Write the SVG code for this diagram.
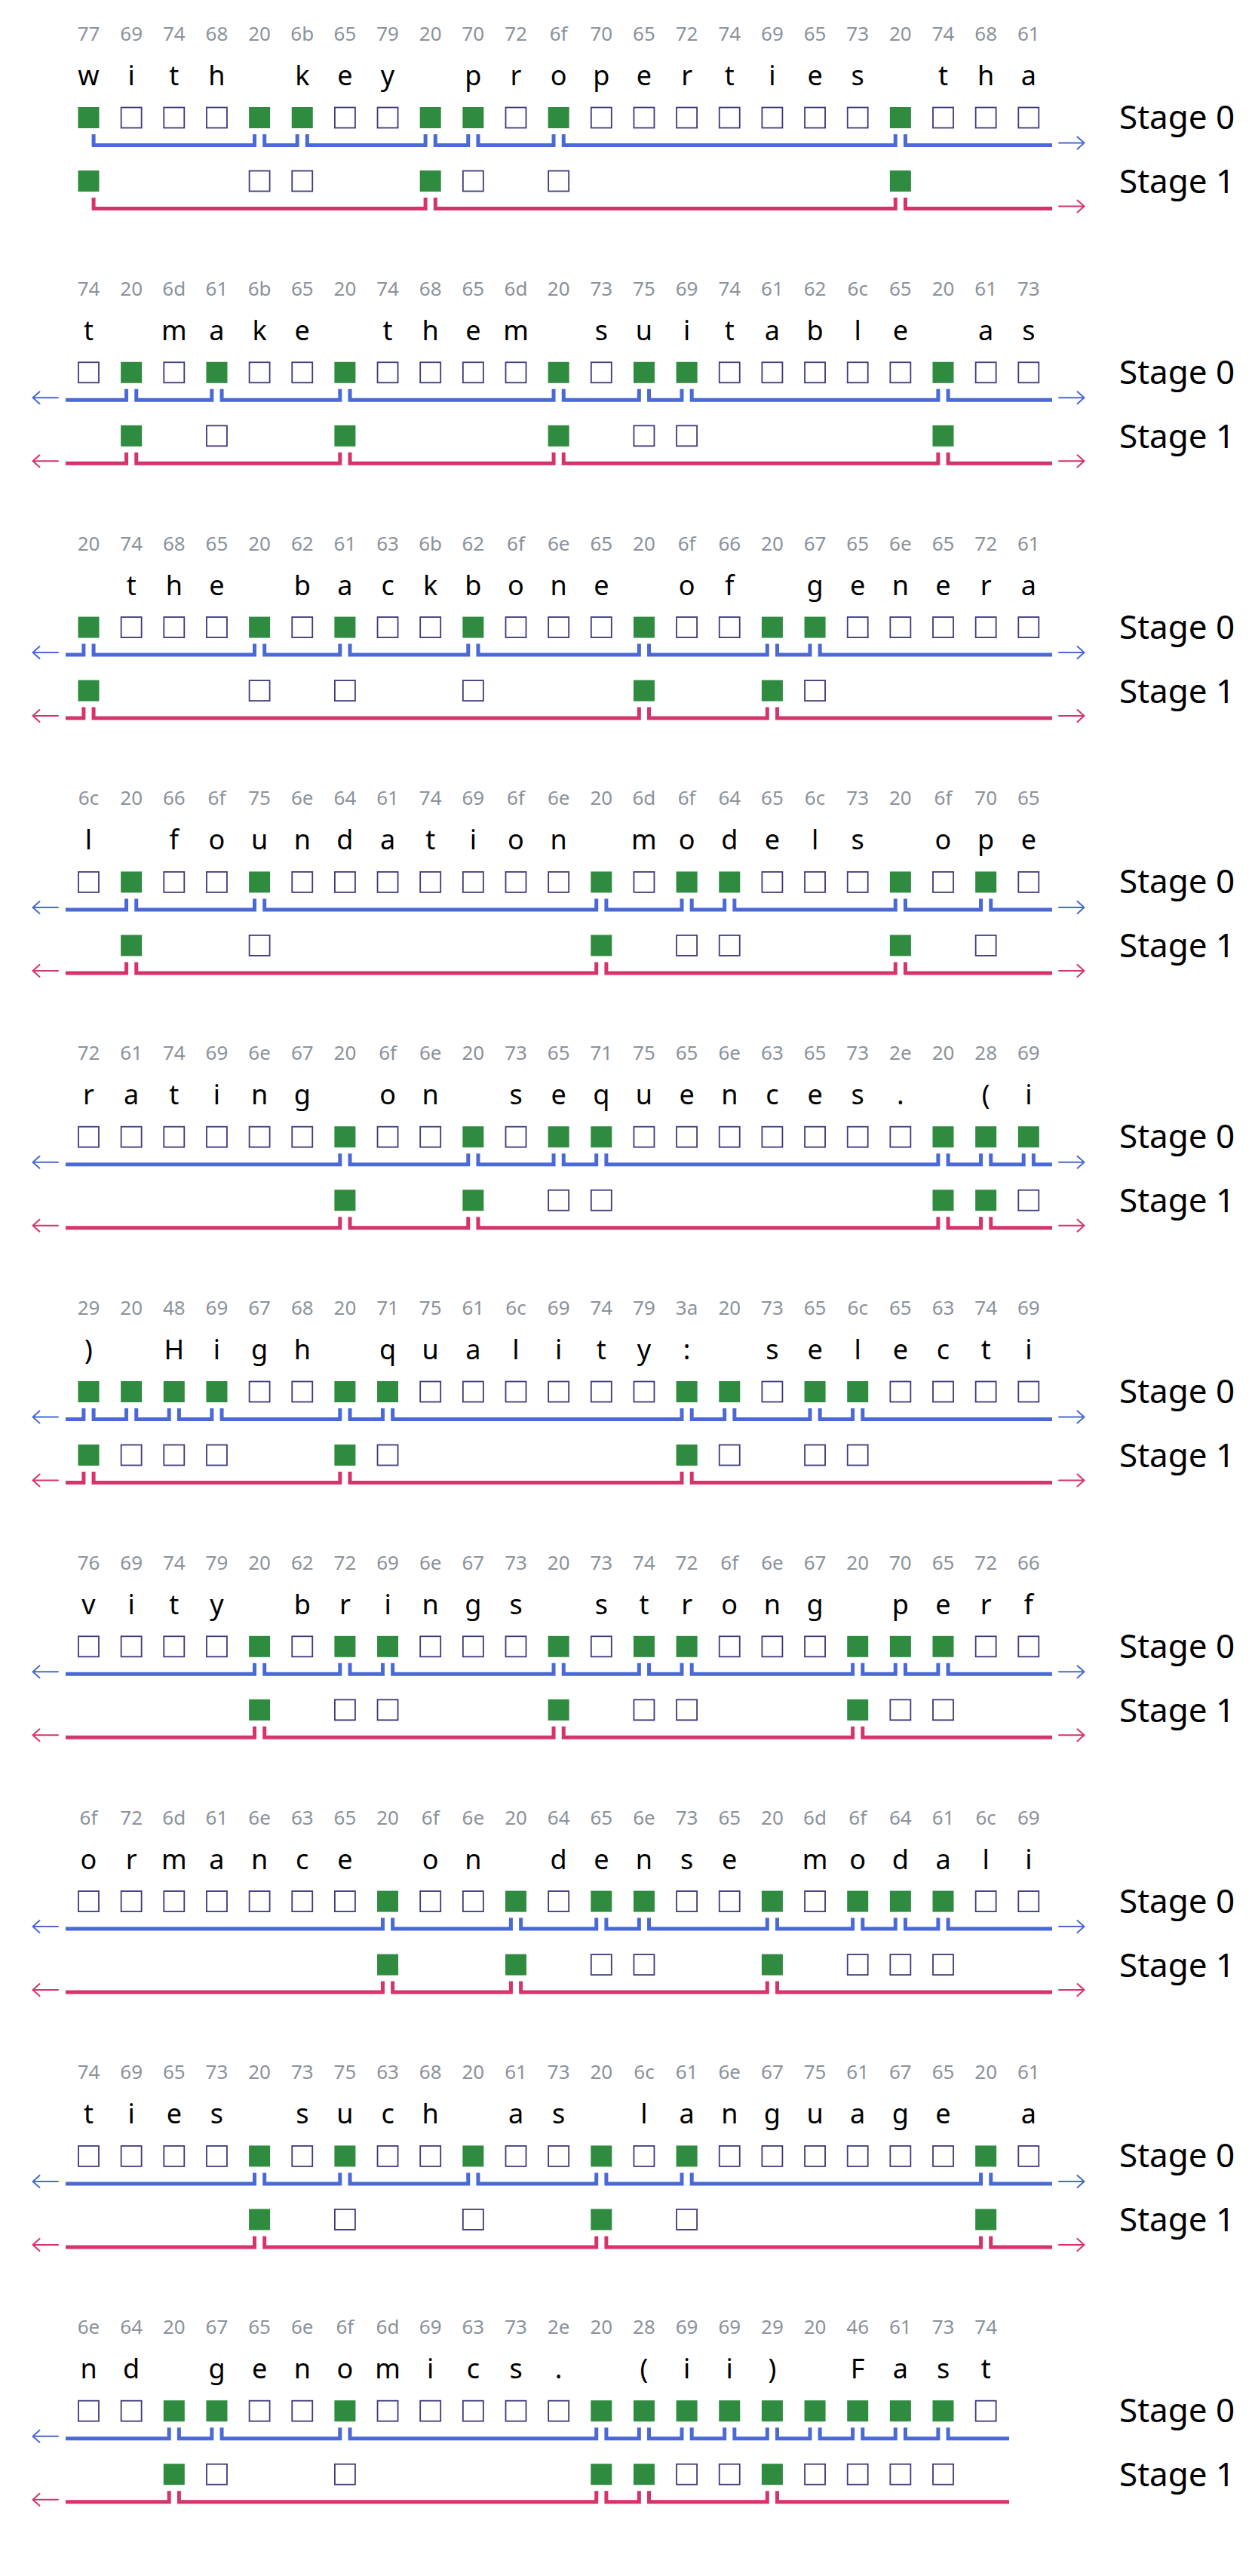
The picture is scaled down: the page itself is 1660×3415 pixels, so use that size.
<svg xmlns="http://www.w3.org/2000/svg" width="1660" height="3415" viewBox="0 0 1660 3415">
<style>
text{font-family:"Noto Sans","Open Sans","DejaVu Sans",sans-serif}
.hex{font-size:26px;fill:#8b929a;text-anchor:middle}
.ch{font-size:36px;fill:#000;text-anchor:middle}
.lbl{font-size:44px;fill:#000}
.g{fill:#2e8b3f}
.e{fill:#fff;stroke:#3e3a7e;stroke-width:1.8}
.br path{fill:none;stroke-width:5;stroke-linejoin:miter;stroke-linecap:butt}
.bl{stroke:#4a69d6}
.pk{stroke:#d6336b}
.ar{fill:none;stroke-width:2;stroke-linecap:round;stroke-linejoin:round}
</style>
<defs>
<rect id="G" class="g" width="28" height="28"/>
<rect id="E" class="e" x="0.5" y="0.5" width="27" height="27"/>
<path id="ra" class="ar" d="M1404,189.5H1437M1428.5,181.5L1437.5,189.5L1428.5,197.5"/>
<path id="la" class="ar" d="M77,189.5H44M52.5,181.5L43.5,189.5L52.5,197.5"/>
</defs>
<rect width="1660" height="3415" fill="#fff"/>

<!-- Block 1 -->
<g id="block-1">
<text class="hex" y="54"><tspan x="117.5">77</tspan><tspan x="174.15">69</tspan><tspan x="230.8">74</tspan><tspan x="287.45">68</tspan><tspan x="344.1">20</tspan><tspan x="400.75">6b</tspan><tspan x="457.4">65</tspan><tspan x="514.05">79</tspan><tspan x="570.7">20</tspan><tspan x="627.35">70</tspan><tspan x="684">72</tspan><tspan x="740.65">6f</tspan><tspan x="797.3">70</tspan><tspan x="853.95">65</tspan><tspan x="910.6">72</tspan><tspan x="967.25">74</tspan><tspan x="1023.9">69</tspan><tspan x="1080.55">65</tspan><tspan x="1137.2">73</tspan><tspan x="1193.85">20</tspan><tspan x="1250.5">74</tspan><tspan x="1307.15">68</tspan><tspan x="1363.8">61</tspan></text>
<text class="ch" y="113"><tspan x="117.5">w</tspan><tspan x="174.15">i</tspan><tspan x="230.8">t</tspan><tspan x="287.45">h</tspan><tspan x="344.1"> </tspan><tspan x="400.75">k</tspan><tspan x="457.4">e</tspan><tspan x="514.05">y</tspan><tspan x="570.7"> </tspan><tspan x="627.35">p</tspan><tspan x="684">r</tspan><tspan x="740.65">o</tspan><tspan x="797.3">p</tspan><tspan x="853.95">e</tspan><tspan x="910.6">r</tspan><tspan x="967.25">t</tspan><tspan x="1023.9">i</tspan><tspan x="1080.55">e</tspan><tspan x="1137.2">s</tspan><tspan x="1193.85"> </tspan><tspan x="1250.5">t</tspan><tspan x="1307.15">h</tspan><tspan x="1363.8">a</tspan></text>
<g id="b1-s0">
<use href="#G" x="103.5" y="142"/><use href="#E" x="160.15" y="142"/><use href="#E" x="216.8" y="142"/><use href="#E" x="273.45" y="142"/><use href="#G" x="330.1" y="142"/><use href="#G" x="386.75" y="142"/><use href="#E" x="443.4" y="142"/><use href="#E" x="500.05" y="142"/><use href="#G" x="556.7" y="142"/><use href="#G" x="613.35" y="142"/><use href="#E" x="670" y="142"/><use href="#G" x="726.65" y="142"/><use href="#E" x="783.3" y="142"/><use href="#E" x="839.95" y="142"/><use href="#E" x="896.6" y="142"/><use href="#E" x="953.25" y="142"/><use href="#E" x="1009.9" y="142"/><use href="#E" x="1066.55" y="142"/><use href="#E" x="1123.2" y="142"/><use href="#G" x="1179.85" y="142"/><use href="#E" x="1236.5" y="142"/><use href="#E" x="1293.15" y="142"/><use href="#E" x="1349.8" y="142"/>
</g>
<g id="b1-s1">
<use href="#G" x="103.5" y="226"/><use href="#E" x="330.1" y="226"/><use href="#E" x="386.75" y="226"/><use href="#G" x="556.7" y="226"/><use href="#E" x="613.35" y="226"/><use href="#E" x="726.65" y="226"/><use href="#G" x="1179.85" y="226"/>
</g>
<text class="lbl" x="1484" y="171">Stage 0</text>
<text class="lbl" x="1484" y="256">Stage 1</text>
</g>

<!-- Block 2 -->
<g id="block-2" transform="translate(0,337.8)">
<text class="hex" y="54"><tspan x="117.5">74</tspan><tspan x="174.15">20</tspan><tspan x="230.8">6d</tspan><tspan x="287.45">61</tspan><tspan x="344.1">6b</tspan><tspan x="400.75">65</tspan><tspan x="457.4">20</tspan><tspan x="514.05">74</tspan><tspan x="570.7">68</tspan><tspan x="627.35">65</tspan><tspan x="684">6d</tspan><tspan x="740.65">20</tspan><tspan x="797.3">73</tspan><tspan x="853.95">75</tspan><tspan x="910.6">69</tspan><tspan x="967.25">74</tspan><tspan x="1023.9">61</tspan><tspan x="1080.55">62</tspan><tspan x="1137.2">6c</tspan><tspan x="1193.85">65</tspan><tspan x="1250.5">20</tspan><tspan x="1307.15">61</tspan><tspan x="1363.8">73</tspan></text>
<text class="ch" y="113"><tspan x="117.5">t</tspan><tspan x="174.15"> </tspan><tspan x="230.8">m</tspan><tspan x="287.45">a</tspan><tspan x="344.1">k</tspan><tspan x="400.75">e</tspan><tspan x="457.4"> </tspan><tspan x="514.05">t</tspan><tspan x="570.7">h</tspan><tspan x="627.35">e</tspan><tspan x="684">m</tspan><tspan x="740.65"> </tspan><tspan x="797.3">s</tspan><tspan x="853.95">u</tspan><tspan x="910.6">i</tspan><tspan x="967.25">t</tspan><tspan x="1023.9">a</tspan><tspan x="1080.55">b</tspan><tspan x="1137.2">l</tspan><tspan x="1193.85">e</tspan><tspan x="1250.5"> </tspan><tspan x="1307.15">a</tspan><tspan x="1363.8">s</tspan></text>
<g id="b2-s0">
<use href="#E" x="103.5" y="142"/><use href="#G" x="160.15" y="142"/><use href="#E" x="216.8" y="142"/><use href="#G" x="273.45" y="142"/><use href="#E" x="330.1" y="142"/><use href="#E" x="386.75" y="142"/><use href="#G" x="443.4" y="142"/><use href="#E" x="500.05" y="142"/><use href="#E" x="556.7" y="142"/><use href="#E" x="613.35" y="142"/><use href="#E" x="670" y="142"/><use href="#G" x="726.65" y="142"/><use href="#E" x="783.3" y="142"/><use href="#G" x="839.95" y="142"/><use href="#G" x="896.6" y="142"/><use href="#E" x="953.25" y="142"/><use href="#E" x="1009.9" y="142"/><use href="#E" x="1066.55" y="142"/><use href="#E" x="1123.2" y="142"/><use href="#E" x="1179.85" y="142"/><use href="#G" x="1236.5" y="142"/><use href="#E" x="1293.15" y="142"/><use href="#E" x="1349.8" y="142"/>
</g>
<g id="b2-s1">
<use href="#G" x="160.15" y="226"/><use href="#E" x="273.45" y="226"/><use href="#G" x="443.4" y="226"/><use href="#G" x="726.65" y="226"/><use href="#E" x="839.95" y="226"/><use href="#E" x="896.6" y="226"/><use href="#G" x="1236.5" y="226"/>
</g>
<text class="lbl" x="1484" y="171">Stage 0</text>
<text class="lbl" x="1484" y="256">Stage 1</text>
</g>

<!-- Block 3 -->
<g id="block-3" transform="translate(0,675.6)">
<text class="hex" y="54"><tspan x="117.5">20</tspan><tspan x="174.15">74</tspan><tspan x="230.8">68</tspan><tspan x="287.45">65</tspan><tspan x="344.1">20</tspan><tspan x="400.75">62</tspan><tspan x="457.4">61</tspan><tspan x="514.05">63</tspan><tspan x="570.7">6b</tspan><tspan x="627.35">62</tspan><tspan x="684">6f</tspan><tspan x="740.65">6e</tspan><tspan x="797.3">65</tspan><tspan x="853.95">20</tspan><tspan x="910.6">6f</tspan><tspan x="967.25">66</tspan><tspan x="1023.9">20</tspan><tspan x="1080.55">67</tspan><tspan x="1137.2">65</tspan><tspan x="1193.85">6e</tspan><tspan x="1250.5">65</tspan><tspan x="1307.15">72</tspan><tspan x="1363.8">61</tspan></text>
<text class="ch" y="113"><tspan x="117.5"> </tspan><tspan x="174.15">t</tspan><tspan x="230.8">h</tspan><tspan x="287.45">e</tspan><tspan x="344.1"> </tspan><tspan x="400.75">b</tspan><tspan x="457.4">a</tspan><tspan x="514.05">c</tspan><tspan x="570.7">k</tspan><tspan x="627.35">b</tspan><tspan x="684">o</tspan><tspan x="740.65">n</tspan><tspan x="797.3">e</tspan><tspan x="853.95"> </tspan><tspan x="910.6">o</tspan><tspan x="967.25">f</tspan><tspan x="1023.9"> </tspan><tspan x="1080.55">g</tspan><tspan x="1137.2">e</tspan><tspan x="1193.85">n</tspan><tspan x="1250.5">e</tspan><tspan x="1307.15">r</tspan><tspan x="1363.8">a</tspan></text>
<g id="b3-s0">
<use href="#G" x="103.5" y="142"/><use href="#E" x="160.15" y="142"/><use href="#E" x="216.8" y="142"/><use href="#E" x="273.45" y="142"/><use href="#G" x="330.1" y="142"/><use href="#E" x="386.75" y="142"/><use href="#G" x="443.4" y="142"/><use href="#E" x="500.05" y="142"/><use href="#E" x="556.7" y="142"/><use href="#G" x="613.35" y="142"/><use href="#E" x="670" y="142"/><use href="#E" x="726.65" y="142"/><use href="#E" x="783.3" y="142"/><use href="#G" x="839.95" y="142"/><use href="#E" x="896.6" y="142"/><use href="#E" x="953.25" y="142"/><use href="#G" x="1009.9" y="142"/><use href="#G" x="1066.55" y="142"/><use href="#E" x="1123.2" y="142"/><use href="#E" x="1179.85" y="142"/><use href="#E" x="1236.5" y="142"/><use href="#E" x="1293.15" y="142"/><use href="#E" x="1349.8" y="142"/>
</g>
<g id="b3-s1">
<use href="#G" x="103.5" y="226"/><use href="#E" x="330.1" y="226"/><use href="#E" x="443.4" y="226"/><use href="#E" x="613.35" y="226"/><use href="#G" x="839.95" y="226"/><use href="#G" x="1009.9" y="226"/><use href="#E" x="1066.55" y="226"/>
</g>
<text class="lbl" x="1484" y="171">Stage 0</text>
<text class="lbl" x="1484" y="256">Stage 1</text>
</g>

<!-- Block 4 -->
<g id="block-4" transform="translate(0,1013.4)">
<text class="hex" y="54"><tspan x="117.5">6c</tspan><tspan x="174.15">20</tspan><tspan x="230.8">66</tspan><tspan x="287.45">6f</tspan><tspan x="344.1">75</tspan><tspan x="400.75">6e</tspan><tspan x="457.4">64</tspan><tspan x="514.05">61</tspan><tspan x="570.7">74</tspan><tspan x="627.35">69</tspan><tspan x="684">6f</tspan><tspan x="740.65">6e</tspan><tspan x="797.3">20</tspan><tspan x="853.95">6d</tspan><tspan x="910.6">6f</tspan><tspan x="967.25">64</tspan><tspan x="1023.9">65</tspan><tspan x="1080.55">6c</tspan><tspan x="1137.2">73</tspan><tspan x="1193.85">20</tspan><tspan x="1250.5">6f</tspan><tspan x="1307.15">70</tspan><tspan x="1363.8">65</tspan></text>
<text class="ch" y="113"><tspan x="117.5">l</tspan><tspan x="174.15"> </tspan><tspan x="230.8">f</tspan><tspan x="287.45">o</tspan><tspan x="344.1">u</tspan><tspan x="400.75">n</tspan><tspan x="457.4">d</tspan><tspan x="514.05">a</tspan><tspan x="570.7">t</tspan><tspan x="627.35">i</tspan><tspan x="684">o</tspan><tspan x="740.65">n</tspan><tspan x="797.3"> </tspan><tspan x="853.95">m</tspan><tspan x="910.6">o</tspan><tspan x="967.25">d</tspan><tspan x="1023.9">e</tspan><tspan x="1080.55">l</tspan><tspan x="1137.2">s</tspan><tspan x="1193.85"> </tspan><tspan x="1250.5">o</tspan><tspan x="1307.15">p</tspan><tspan x="1363.8">e</tspan></text>
<g id="b4-s0">
<use href="#E" x="103.5" y="142"/><use href="#G" x="160.15" y="142"/><use href="#E" x="216.8" y="142"/><use href="#E" x="273.45" y="142"/><use href="#G" x="330.1" y="142"/><use href="#E" x="386.75" y="142"/><use href="#E" x="443.4" y="142"/><use href="#E" x="500.05" y="142"/><use href="#E" x="556.7" y="142"/><use href="#E" x="613.35" y="142"/><use href="#E" x="670" y="142"/><use href="#E" x="726.65" y="142"/><use href="#G" x="783.3" y="142"/><use href="#E" x="839.95" y="142"/><use href="#G" x="896.6" y="142"/><use href="#G" x="953.25" y="142"/><use href="#E" x="1009.9" y="142"/><use href="#E" x="1066.55" y="142"/><use href="#E" x="1123.2" y="142"/><use href="#G" x="1179.85" y="142"/><use href="#E" x="1236.5" y="142"/><use href="#G" x="1293.15" y="142"/><use href="#E" x="1349.8" y="142"/>
</g>
<g id="b4-s1">
<use href="#G" x="160.15" y="226"/><use href="#E" x="330.1" y="226"/><use href="#G" x="783.3" y="226"/><use href="#E" x="896.6" y="226"/><use href="#E" x="953.25" y="226"/><use href="#G" x="1179.85" y="226"/><use href="#E" x="1293.15" y="226"/>
</g>
<text class="lbl" x="1484" y="171">Stage 0</text>
<text class="lbl" x="1484" y="256">Stage 1</text>
</g>

<!-- Block 5 -->
<g id="block-5" transform="translate(0,1351.2)">
<text class="hex" y="54"><tspan x="117.5">72</tspan><tspan x="174.15">61</tspan><tspan x="230.8">74</tspan><tspan x="287.45">69</tspan><tspan x="344.1">6e</tspan><tspan x="400.75">67</tspan><tspan x="457.4">20</tspan><tspan x="514.05">6f</tspan><tspan x="570.7">6e</tspan><tspan x="627.35">20</tspan><tspan x="684">73</tspan><tspan x="740.65">65</tspan><tspan x="797.3">71</tspan><tspan x="853.95">75</tspan><tspan x="910.6">65</tspan><tspan x="967.25">6e</tspan><tspan x="1023.9">63</tspan><tspan x="1080.55">65</tspan><tspan x="1137.2">73</tspan><tspan x="1193.85">2e</tspan><tspan x="1250.5">20</tspan><tspan x="1307.15">28</tspan><tspan x="1363.8">69</tspan></text>
<text class="ch" y="113"><tspan x="117.5">r</tspan><tspan x="174.15">a</tspan><tspan x="230.8">t</tspan><tspan x="287.45">i</tspan><tspan x="344.1">n</tspan><tspan x="400.75">g</tspan><tspan x="457.4"> </tspan><tspan x="514.05">o</tspan><tspan x="570.7">n</tspan><tspan x="627.35"> </tspan><tspan x="684">s</tspan><tspan x="740.65">e</tspan><tspan x="797.3">q</tspan><tspan x="853.95">u</tspan><tspan x="910.6">e</tspan><tspan x="967.25">n</tspan><tspan x="1023.9">c</tspan><tspan x="1080.55">e</tspan><tspan x="1137.2">s</tspan><tspan x="1193.85">.</tspan><tspan x="1250.5"> </tspan><tspan x="1307.15">(</tspan><tspan x="1363.8">i</tspan></text>
<g id="b5-s0">
<use href="#E" x="103.5" y="142"/><use href="#E" x="160.15" y="142"/><use href="#E" x="216.8" y="142"/><use href="#E" x="273.45" y="142"/><use href="#E" x="330.1" y="142"/><use href="#E" x="386.75" y="142"/><use href="#G" x="443.4" y="142"/><use href="#E" x="500.05" y="142"/><use href="#E" x="556.7" y="142"/><use href="#G" x="613.35" y="142"/><use href="#E" x="670" y="142"/><use href="#G" x="726.65" y="142"/><use href="#G" x="783.3" y="142"/><use href="#E" x="839.95" y="142"/><use href="#E" x="896.6" y="142"/><use href="#E" x="953.25" y="142"/><use href="#E" x="1009.9" y="142"/><use href="#E" x="1066.55" y="142"/><use href="#E" x="1123.2" y="142"/><use href="#E" x="1179.85" y="142"/><use href="#G" x="1236.5" y="142"/><use href="#G" x="1293.15" y="142"/><use href="#G" x="1349.8" y="142"/>
</g>
<g id="b5-s1">
<use href="#G" x="443.4" y="226"/><use href="#G" x="613.35" y="226"/><use href="#E" x="726.65" y="226"/><use href="#E" x="783.3" y="226"/><use href="#G" x="1236.5" y="226"/><use href="#G" x="1293.15" y="226"/><use href="#E" x="1349.8" y="226"/>
</g>
<text class="lbl" x="1484" y="171">Stage 0</text>
<text class="lbl" x="1484" y="256">Stage 1</text>
</g>

<!-- Block 6 -->
<g id="block-6" transform="translate(0,1689)">
<text class="hex" y="54"><tspan x="117.5">29</tspan><tspan x="174.15">20</tspan><tspan x="230.8">48</tspan><tspan x="287.45">69</tspan><tspan x="344.1">67</tspan><tspan x="400.75">68</tspan><tspan x="457.4">20</tspan><tspan x="514.05">71</tspan><tspan x="570.7">75</tspan><tspan x="627.35">61</tspan><tspan x="684">6c</tspan><tspan x="740.65">69</tspan><tspan x="797.3">74</tspan><tspan x="853.95">79</tspan><tspan x="910.6">3a</tspan><tspan x="967.25">20</tspan><tspan x="1023.9">73</tspan><tspan x="1080.55">65</tspan><tspan x="1137.2">6c</tspan><tspan x="1193.85">65</tspan><tspan x="1250.5">63</tspan><tspan x="1307.15">74</tspan><tspan x="1363.8">69</tspan></text>
<text class="ch" y="113"><tspan x="117.5">)</tspan><tspan x="174.15"> </tspan><tspan x="230.8">H</tspan><tspan x="287.45">i</tspan><tspan x="344.1">g</tspan><tspan x="400.75">h</tspan><tspan x="457.4"> </tspan><tspan x="514.05">q</tspan><tspan x="570.7">u</tspan><tspan x="627.35">a</tspan><tspan x="684">l</tspan><tspan x="740.65">i</tspan><tspan x="797.3">t</tspan><tspan x="853.95">y</tspan><tspan x="910.6">:</tspan><tspan x="967.25"> </tspan><tspan x="1023.9">s</tspan><tspan x="1080.55">e</tspan><tspan x="1137.2">l</tspan><tspan x="1193.85">e</tspan><tspan x="1250.5">c</tspan><tspan x="1307.15">t</tspan><tspan x="1363.8">i</tspan></text>
<g id="b6-s0">
<use href="#G" x="103.5" y="142"/><use href="#G" x="160.15" y="142"/><use href="#G" x="216.8" y="142"/><use href="#G" x="273.45" y="142"/><use href="#E" x="330.1" y="142"/><use href="#E" x="386.75" y="142"/><use href="#G" x="443.4" y="142"/><use href="#G" x="500.05" y="142"/><use href="#E" x="556.7" y="142"/><use href="#E" x="613.35" y="142"/><use href="#E" x="670" y="142"/><use href="#E" x="726.65" y="142"/><use href="#E" x="783.3" y="142"/><use href="#E" x="839.95" y="142"/><use href="#G" x="896.6" y="142"/><use href="#G" x="953.25" y="142"/><use href="#E" x="1009.9" y="142"/><use href="#G" x="1066.55" y="142"/><use href="#G" x="1123.2" y="142"/><use href="#E" x="1179.85" y="142"/><use href="#E" x="1236.5" y="142"/><use href="#E" x="1293.15" y="142"/><use href="#E" x="1349.8" y="142"/>
</g>
<g id="b6-s1">
<use href="#G" x="103.5" y="226"/><use href="#E" x="160.15" y="226"/><use href="#E" x="216.8" y="226"/><use href="#E" x="273.45" y="226"/><use href="#G" x="443.4" y="226"/><use href="#E" x="500.05" y="226"/><use href="#G" x="896.6" y="226"/><use href="#E" x="953.25" y="226"/><use href="#E" x="1066.55" y="226"/><use href="#E" x="1123.2" y="226"/>
</g>
<text class="lbl" x="1484" y="171">Stage 0</text>
<text class="lbl" x="1484" y="256">Stage 1</text>
</g>

<!-- Block 7 -->
<g id="block-7" transform="translate(0,2026.8)">
<text class="hex" y="54"><tspan x="117.5">76</tspan><tspan x="174.15">69</tspan><tspan x="230.8">74</tspan><tspan x="287.45">79</tspan><tspan x="344.1">20</tspan><tspan x="400.75">62</tspan><tspan x="457.4">72</tspan><tspan x="514.05">69</tspan><tspan x="570.7">6e</tspan><tspan x="627.35">67</tspan><tspan x="684">73</tspan><tspan x="740.65">20</tspan><tspan x="797.3">73</tspan><tspan x="853.95">74</tspan><tspan x="910.6">72</tspan><tspan x="967.25">6f</tspan><tspan x="1023.9">6e</tspan><tspan x="1080.55">67</tspan><tspan x="1137.2">20</tspan><tspan x="1193.85">70</tspan><tspan x="1250.5">65</tspan><tspan x="1307.15">72</tspan><tspan x="1363.8">66</tspan></text>
<text class="ch" y="113"><tspan x="117.5">v</tspan><tspan x="174.15">i</tspan><tspan x="230.8">t</tspan><tspan x="287.45">y</tspan><tspan x="344.1"> </tspan><tspan x="400.75">b</tspan><tspan x="457.4">r</tspan><tspan x="514.05">i</tspan><tspan x="570.7">n</tspan><tspan x="627.35">g</tspan><tspan x="684">s</tspan><tspan x="740.65"> </tspan><tspan x="797.3">s</tspan><tspan x="853.95">t</tspan><tspan x="910.6">r</tspan><tspan x="967.25">o</tspan><tspan x="1023.9">n</tspan><tspan x="1080.55">g</tspan><tspan x="1137.2"> </tspan><tspan x="1193.85">p</tspan><tspan x="1250.5">e</tspan><tspan x="1307.15">r</tspan><tspan x="1363.8">f</tspan></text>
<g id="b7-s0">
<use href="#E" x="103.5" y="142"/><use href="#E" x="160.15" y="142"/><use href="#E" x="216.8" y="142"/><use href="#E" x="273.45" y="142"/><use href="#G" x="330.1" y="142"/><use href="#E" x="386.75" y="142"/><use href="#G" x="443.4" y="142"/><use href="#G" x="500.05" y="142"/><use href="#E" x="556.7" y="142"/><use href="#E" x="613.35" y="142"/><use href="#E" x="670" y="142"/><use href="#G" x="726.65" y="142"/><use href="#E" x="783.3" y="142"/><use href="#G" x="839.95" y="142"/><use href="#G" x="896.6" y="142"/><use href="#E" x="953.25" y="142"/><use href="#E" x="1009.9" y="142"/><use href="#E" x="1066.55" y="142"/><use href="#G" x="1123.2" y="142"/><use href="#G" x="1179.85" y="142"/><use href="#G" x="1236.5" y="142"/><use href="#E" x="1293.15" y="142"/><use href="#E" x="1349.8" y="142"/>
</g>
<g id="b7-s1">
<use href="#G" x="330.1" y="226"/><use href="#E" x="443.4" y="226"/><use href="#E" x="500.05" y="226"/><use href="#G" x="726.65" y="226"/><use href="#E" x="839.95" y="226"/><use href="#E" x="896.6" y="226"/><use href="#G" x="1123.2" y="226"/><use href="#E" x="1179.85" y="226"/><use href="#E" x="1236.5" y="226"/>
</g>
<text class="lbl" x="1484" y="171">Stage 0</text>
<text class="lbl" x="1484" y="256">Stage 1</text>
</g>

<!-- Block 8 -->
<g id="block-8" transform="translate(0,2364.6)">
<text class="hex" y="54"><tspan x="117.5">6f</tspan><tspan x="174.15">72</tspan><tspan x="230.8">6d</tspan><tspan x="287.45">61</tspan><tspan x="344.1">6e</tspan><tspan x="400.75">63</tspan><tspan x="457.4">65</tspan><tspan x="514.05">20</tspan><tspan x="570.7">6f</tspan><tspan x="627.35">6e</tspan><tspan x="684">20</tspan><tspan x="740.65">64</tspan><tspan x="797.3">65</tspan><tspan x="853.95">6e</tspan><tspan x="910.6">73</tspan><tspan x="967.25">65</tspan><tspan x="1023.9">20</tspan><tspan x="1080.55">6d</tspan><tspan x="1137.2">6f</tspan><tspan x="1193.85">64</tspan><tspan x="1250.5">61</tspan><tspan x="1307.15">6c</tspan><tspan x="1363.8">69</tspan></text>
<text class="ch" y="113"><tspan x="117.5">o</tspan><tspan x="174.15">r</tspan><tspan x="230.8">m</tspan><tspan x="287.45">a</tspan><tspan x="344.1">n</tspan><tspan x="400.75">c</tspan><tspan x="457.4">e</tspan><tspan x="514.05"> </tspan><tspan x="570.7">o</tspan><tspan x="627.35">n</tspan><tspan x="684"> </tspan><tspan x="740.65">d</tspan><tspan x="797.3">e</tspan><tspan x="853.95">n</tspan><tspan x="910.6">s</tspan><tspan x="967.25">e</tspan><tspan x="1023.9"> </tspan><tspan x="1080.55">m</tspan><tspan x="1137.2">o</tspan><tspan x="1193.85">d</tspan><tspan x="1250.5">a</tspan><tspan x="1307.15">l</tspan><tspan x="1363.8">i</tspan></text>
<g id="b8-s0">
<use href="#E" x="103.5" y="142"/><use href="#E" x="160.15" y="142"/><use href="#E" x="216.8" y="142"/><use href="#E" x="273.45" y="142"/><use href="#E" x="330.1" y="142"/><use href="#E" x="386.75" y="142"/><use href="#E" x="443.4" y="142"/><use href="#G" x="500.05" y="142"/><use href="#E" x="556.7" y="142"/><use href="#E" x="613.35" y="142"/><use href="#G" x="670" y="142"/><use href="#E" x="726.65" y="142"/><use href="#G" x="783.3" y="142"/><use href="#G" x="839.95" y="142"/><use href="#E" x="896.6" y="142"/><use href="#E" x="953.25" y="142"/><use href="#G" x="1009.9" y="142"/><use href="#E" x="1066.55" y="142"/><use href="#G" x="1123.2" y="142"/><use href="#G" x="1179.85" y="142"/><use href="#G" x="1236.5" y="142"/><use href="#E" x="1293.15" y="142"/><use href="#E" x="1349.8" y="142"/>
</g>
<g id="b8-s1">
<use href="#G" x="500.05" y="226"/><use href="#G" x="670" y="226"/><use href="#E" x="783.3" y="226"/><use href="#E" x="839.95" y="226"/><use href="#G" x="1009.9" y="226"/><use href="#E" x="1123.2" y="226"/><use href="#E" x="1179.85" y="226"/><use href="#E" x="1236.5" y="226"/>
</g>
<text class="lbl" x="1484" y="171">Stage 0</text>
<text class="lbl" x="1484" y="256">Stage 1</text>
</g>

<!-- Block 9 -->
<g id="block-9" transform="translate(0,2702.4)">
<text class="hex" y="54"><tspan x="117.5">74</tspan><tspan x="174.15">69</tspan><tspan x="230.8">65</tspan><tspan x="287.45">73</tspan><tspan x="344.1">20</tspan><tspan x="400.75">73</tspan><tspan x="457.4">75</tspan><tspan x="514.05">63</tspan><tspan x="570.7">68</tspan><tspan x="627.35">20</tspan><tspan x="684">61</tspan><tspan x="740.65">73</tspan><tspan x="797.3">20</tspan><tspan x="853.95">6c</tspan><tspan x="910.6">61</tspan><tspan x="967.25">6e</tspan><tspan x="1023.9">67</tspan><tspan x="1080.55">75</tspan><tspan x="1137.2">61</tspan><tspan x="1193.85">67</tspan><tspan x="1250.5">65</tspan><tspan x="1307.15">20</tspan><tspan x="1363.8">61</tspan></text>
<text class="ch" y="113"><tspan x="117.5">t</tspan><tspan x="174.15">i</tspan><tspan x="230.8">e</tspan><tspan x="287.45">s</tspan><tspan x="344.1"> </tspan><tspan x="400.75">s</tspan><tspan x="457.4">u</tspan><tspan x="514.05">c</tspan><tspan x="570.7">h</tspan><tspan x="627.35"> </tspan><tspan x="684">a</tspan><tspan x="740.65">s</tspan><tspan x="797.3"> </tspan><tspan x="853.95">l</tspan><tspan x="910.6">a</tspan><tspan x="967.25">n</tspan><tspan x="1023.9">g</tspan><tspan x="1080.55">u</tspan><tspan x="1137.2">a</tspan><tspan x="1193.85">g</tspan><tspan x="1250.5">e</tspan><tspan x="1307.15"> </tspan><tspan x="1363.8">a</tspan></text>
<g id="b9-s0">
<use href="#E" x="103.5" y="142"/><use href="#E" x="160.15" y="142"/><use href="#E" x="216.8" y="142"/><use href="#E" x="273.45" y="142"/><use href="#G" x="330.1" y="142"/><use href="#E" x="386.75" y="142"/><use href="#G" x="443.4" y="142"/><use href="#E" x="500.05" y="142"/><use href="#E" x="556.7" y="142"/><use href="#G" x="613.35" y="142"/><use href="#E" x="670" y="142"/><use href="#E" x="726.65" y="142"/><use href="#G" x="783.3" y="142"/><use href="#E" x="839.95" y="142"/><use href="#G" x="896.6" y="142"/><use href="#E" x="953.25" y="142"/><use href="#E" x="1009.9" y="142"/><use href="#E" x="1066.55" y="142"/><use href="#E" x="1123.2" y="142"/><use href="#E" x="1179.85" y="142"/><use href="#E" x="1236.5" y="142"/><use href="#G" x="1293.15" y="142"/><use href="#E" x="1349.8" y="142"/>
</g>
<g id="b9-s1">
<use href="#G" x="330.1" y="226"/><use href="#E" x="443.4" y="226"/><use href="#E" x="613.35" y="226"/><use href="#G" x="783.3" y="226"/><use href="#E" x="896.6" y="226"/><use href="#G" x="1293.15" y="226"/>
</g>
<text class="lbl" x="1484" y="171">Stage 0</text>
<text class="lbl" x="1484" y="256">Stage 1</text>
</g>

<!-- Block 10 -->
<g id="block-10" transform="translate(0,3040.2)">
<text class="hex" y="54"><tspan x="117.5">6e</tspan><tspan x="174.15">64</tspan><tspan x="230.8">20</tspan><tspan x="287.45">67</tspan><tspan x="344.1">65</tspan><tspan x="400.75">6e</tspan><tspan x="457.4">6f</tspan><tspan x="514.05">6d</tspan><tspan x="570.7">69</tspan><tspan x="627.35">63</tspan><tspan x="684">73</tspan><tspan x="740.65">2e</tspan><tspan x="797.3">20</tspan><tspan x="853.95">28</tspan><tspan x="910.6">69</tspan><tspan x="967.25">69</tspan><tspan x="1023.9">29</tspan><tspan x="1080.55">20</tspan><tspan x="1137.2">46</tspan><tspan x="1193.85">61</tspan><tspan x="1250.5">73</tspan><tspan x="1307.15">74</tspan></text>
<text class="ch" y="113"><tspan x="117.5">n</tspan><tspan x="174.15">d</tspan><tspan x="230.8"> </tspan><tspan x="287.45">g</tspan><tspan x="344.1">e</tspan><tspan x="400.75">n</tspan><tspan x="457.4">o</tspan><tspan x="514.05">m</tspan><tspan x="570.7">i</tspan><tspan x="627.35">c</tspan><tspan x="684">s</tspan><tspan x="740.65">.</tspan><tspan x="797.3"> </tspan><tspan x="853.95">(</tspan><tspan x="910.6">i</tspan><tspan x="967.25">i</tspan><tspan x="1023.9">)</tspan><tspan x="1080.55"> </tspan><tspan x="1137.2">F</tspan><tspan x="1193.85">a</tspan><tspan x="1250.5">s</tspan><tspan x="1307.15">t</tspan></text>
<g id="b10-s0">
<use href="#E" x="103.5" y="142"/><use href="#E" x="160.15" y="142"/><use href="#G" x="216.8" y="142"/><use href="#G" x="273.45" y="142"/><use href="#E" x="330.1" y="142"/><use href="#E" x="386.75" y="142"/><use href="#G" x="443.4" y="142"/><use href="#E" x="500.05" y="142"/><use href="#E" x="556.7" y="142"/><use href="#E" x="613.35" y="142"/><use href="#E" x="670" y="142"/><use href="#E" x="726.65" y="142"/><use href="#G" x="783.3" y="142"/><use href="#G" x="839.95" y="142"/><use href="#G" x="896.6" y="142"/><use href="#G" x="953.25" y="142"/><use href="#G" x="1009.9" y="142"/><use href="#G" x="1066.55" y="142"/><use href="#G" x="1123.2" y="142"/><use href="#G" x="1179.85" y="142"/><use href="#G" x="1236.5" y="142"/><use href="#E" x="1293.15" y="142"/>
</g>
<g id="b10-s1">
<use href="#G" x="216.8" y="226"/><use href="#E" x="273.45" y="226"/><use href="#E" x="443.4" y="226"/><use href="#G" x="783.3" y="226"/><use href="#G" x="839.95" y="226"/><use href="#E" x="896.6" y="226"/><use href="#E" x="953.25" y="226"/><use href="#G" x="1009.9" y="226"/><use href="#E" x="1066.55" y="226"/><use href="#E" x="1123.2" y="226"/><use href="#E" x="1179.85" y="226"/><use href="#E" x="1236.5" y="226"/>
</g>
<text class="lbl" x="1484" y="171">Stage 0</text>
<text class="lbl" x="1484" y="256">Stage 1</text>
</g>

<!-- Connectors -->
<g id="connectors" class="br">
<g id="c1" transform="translate(0,0)">
<g class="bl"><path d="M124.1,178V192.5H337.5V178M350.7,178V192.5H394.15V178M407.35,178V192.5H564.1V178M577.3,178V192.5H620.75V178M633.95,178V192.5H734.05V178M747.25,178V192.5H1187.25V178M1200.45,178V192.5H1395"/><use href="#ra"/></g>
<g class="pk" transform="translate(0,84)"><path d="M124.1,178V192.5H564.1V178M577.3,178V192.5H1187.25V178M1200.45,178V192.5H1395"/><use href="#ra"/></g>
</g>
<g id="c2" transform="translate(0,337.8)">
<g class="bl"><path d="M87,192.5H167.55V178M180.75,178V192.5H280.85V178M294.05,178V192.5H450.8V178M464,178V192.5H734.05V178M747.25,178V192.5H847.35V178M860.55,178V192.5H904V178M917.2,178V192.5H1243.9V178M1257.1,178V192.5H1395"/><use href="#la"/><use href="#ra"/></g>
<g class="pk" transform="translate(0,84)"><path d="M87,192.5H167.55V178M180.75,178V192.5H450.8V178M464,178V192.5H734.05V178M747.25,178V192.5H1243.9V178M1257.1,178V192.5H1395"/><use href="#la"/><use href="#ra"/></g>
</g>
<g id="c3" transform="translate(0,675.6)">
<g class="bl"><path d="M87,192.5H110.9V178M124.1,178V192.5H337.5V178M350.7,178V192.5H450.8V178M464,178V192.5H620.75V178M633.95,178V192.5H847.35V178M860.55,178V192.5H1017.3V178M1030.5,178V192.5H1073.95V178M1087.15,178V192.5H1395"/><use href="#la"/><use href="#ra"/></g>
<g class="pk" transform="translate(0,84)"><path d="M87,192.5H110.9V178M124.1,178V192.5H847.35V178M860.55,178V192.5H1017.3V178M1030.5,178V192.5H1395"/><use href="#la"/><use href="#ra"/></g>
</g>
<g id="c4" transform="translate(0,1013.4)">
<g class="bl"><path d="M87,192.5H167.55V178M180.75,178V192.5H337.5V178M350.7,178V192.5H790.7V178M803.9,178V192.5H904V178M917.2,178V192.5H960.65V178M973.85,178V192.5H1187.25V178M1200.45,178V192.5H1300.55V178M1313.75,178V192.5H1395"/><use href="#la"/><use href="#ra"/></g>
<g class="pk" transform="translate(0,84)"><path d="M87,192.5H167.55V178M180.75,178V192.5H790.7V178M803.9,178V192.5H1187.25V178M1200.45,178V192.5H1395"/><use href="#la"/><use href="#ra"/></g>
</g>
<g id="c5" transform="translate(0,1351.2)">
<g class="bl"><path d="M87,192.5H450.8V178M464,178V192.5H620.75V178M633.95,178V192.5H734.05V178M747.25,178V192.5H790.7V178M803.9,178V192.5H1243.9V178M1257.1,178V192.5H1300.55V178M1313.75,178V192.5H1357.2V178M1370.4,178V192.5H1395"/><use href="#la"/><use href="#ra"/></g>
<g class="pk" transform="translate(0,84)"><path d="M87,192.5H450.8V178M464,178V192.5H620.75V178M633.95,178V192.5H1243.9V178M1257.1,178V192.5H1300.55V178M1313.75,178V192.5H1395"/><use href="#la"/><use href="#ra"/></g>
</g>
<g id="c6" transform="translate(0,1689)">
<g class="bl"><path d="M87,192.5H110.9V178M124.1,178V192.5H167.55V178M180.75,178V192.5H224.2V178M237.4,178V192.5H280.85V178M294.05,178V192.5H450.8V178M464,178V192.5H507.45V178M520.65,178V192.5H904V178M917.2,178V192.5H960.65V178M973.85,178V192.5H1073.95V178M1087.15,178V192.5H1130.6V178M1143.8,178V192.5H1395"/><use href="#la"/><use href="#ra"/></g>
<g class="pk" transform="translate(0,84)"><path d="M87,192.5H110.9V178M124.1,178V192.5H450.8V178M464,178V192.5H904V178M917.2,178V192.5H1395"/><use href="#la"/><use href="#ra"/></g>
</g>
<g id="c7" transform="translate(0,2026.8)">
<g class="bl"><path d="M87,192.5H337.5V178M350.7,178V192.5H450.8V178M464,178V192.5H507.45V178M520.65,178V192.5H734.05V178M747.25,178V192.5H847.35V178M860.55,178V192.5H904V178M917.2,178V192.5H1130.6V178M1143.8,178V192.5H1187.25V178M1200.45,178V192.5H1243.9V178M1257.1,178V192.5H1395"/><use href="#la"/><use href="#ra"/></g>
<g class="pk" transform="translate(0,84)"><path d="M87,192.5H337.5V178M350.7,178V192.5H734.05V178M747.25,178V192.5H1130.6V178M1143.8,178V192.5H1395"/><use href="#la"/><use href="#ra"/></g>
</g>
<g id="c8" transform="translate(0,2364.6)">
<g class="bl"><path d="M87,192.5H507.45V178M520.65,178V192.5H677.4V178M690.6,178V192.5H790.7V178M803.9,178V192.5H847.35V178M860.55,178V192.5H1017.3V178M1030.5,178V192.5H1130.6V178M1143.8,178V192.5H1187.25V178M1200.45,178V192.5H1243.9V178M1257.1,178V192.5H1395"/><use href="#la"/><use href="#ra"/></g>
<g class="pk" transform="translate(0,84)"><path d="M87,192.5H507.45V178M520.65,178V192.5H677.4V178M690.6,178V192.5H1017.3V178M1030.5,178V192.5H1395"/><use href="#la"/><use href="#ra"/></g>
</g>
<g id="c9" transform="translate(0,2702.4)">
<g class="bl"><path d="M87,192.5H337.5V178M350.7,178V192.5H450.8V178M464,178V192.5H620.75V178M633.95,178V192.5H790.7V178M803.9,178V192.5H904V178M917.2,178V192.5H1300.55V178M1313.75,178V192.5H1395"/><use href="#la"/><use href="#ra"/></g>
<g class="pk" transform="translate(0,84)"><path d="M87,192.5H337.5V178M350.7,178V192.5H790.7V178M803.9,178V192.5H1300.55V178M1313.75,178V192.5H1395"/><use href="#la"/><use href="#ra"/></g>
</g>
<g id="c10" transform="translate(0,3040.2)">
<g class="bl"><path d="M87,192.5H224.2V178M237.4,178V192.5H280.85V178M294.05,178V192.5H450.8V178M464,178V192.5H790.7V178M803.9,178V192.5H847.35V178M860.55,178V192.5H904V178M917.2,178V192.5H960.65V178M973.85,178V192.5H1017.3V178M1030.5,178V192.5H1073.95V178M1087.15,178V192.5H1130.6V178M1143.8,178V192.5H1187.25V178M1200.45,178V192.5H1243.9V178M1257.1,178V192.5H1338"/><use href="#la"/></g>
<g class="pk" transform="translate(0,84)"><path d="M87,192.5H224.2V178M237.4,178V192.5H790.7V178M803.9,178V192.5H847.35V178M860.55,178V192.5H1017.3V178M1030.5,178V192.5H1338"/><use href="#la"/></g>
</g>
</g>
</svg>
